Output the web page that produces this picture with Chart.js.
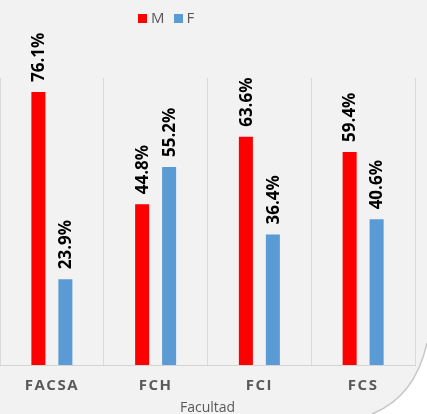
<!DOCTYPE html>
<html>
<head>
<meta charset="utf-8">
<script src="https://cdn.jsdelivr.net/npm/chart.js@4"></script>
<style>
  html, body { margin: 0; padding: 0; background: #f2f2f2; }
  #wrap { position: relative; width: 427px; height: 414px; overflow: hidden; }
  #legend { position: absolute; top: 7px; left: 138px; font: 15px "Open Sans", sans-serif; color: #595959; line-height: 20px; }
  #legend span.box { display: inline-block; width: 9px; height: 9px; margin-right: 4px; }
  #legend span.lab { margin-right: 9px; }
</style>
</head>
<body>
<div id="wrap">
  <canvas id="myChart" width="427" height="414"></canvas>
  <div id="legend"></div>
</div>
<script>
const labels = ['FACSA', 'FCH', 'FCI', 'FCS'];
const seriesNames = ['M', 'F'];
const valuesM = [76.1, 44.8, 63.6, 59.4];
const valuesF = [23.9, 55.2, 36.4, 40.6];
const colors = ['#ff0000', '#5b9bd5'];

// legend in html
let lg = '';
seriesNames.forEach(function(n, i){
  lg += '<span class="box" style="background:' + colors[i] + '"></span><span class="lab">' + n + '</span>';
});
document.getElementById('legend').innerHTML = lg;

const barLabels = {
  id: 'barLabels',
  beforeDraw(chart) {
    chart.ctx.letterSpacing = '0px';
  },
  afterDatasetsDraw(chart) {
    const ctx = chart.ctx;
    ctx.save();
    ctx.font = 'bold 17px "Open Sans"';
    ctx.fillStyle = '#000';
    ctx.textAlign = 'left';
    ctx.textBaseline = 'middle';
    chart.data.datasets.forEach(function(ds, i){
      chart.getDatasetMeta(i).data.forEach(function(bar, j){
        ctx.save();
        ctx.translate(bar.x + 1, bar.y - 10);
        ctx.rotate(-Math.PI / 2);
        ctx.fillText(ds.data[j].toFixed(1) + '%', 0, 0);
        ctx.restore();
      });
    });
    ctx.restore();
    // spaced letters for the category ticks (drawn next, z:1)
    ctx.letterSpacing = '1.5px';
  },
  afterDraw(chart) {
    chart.ctx.letterSpacing = '0px';
  }
};

// page curl in the corner
const curl = {
  id: 'curl',
  afterDraw(chart) {
    const ctx = chart.ctx;
    ctx.save();
    ctx.beginPath();
    ctx.moveTo(427, 343);
    ctx.quadraticCurveTo(415, 397, 372, 414);
    ctx.lineTo(427, 414);
    ctx.closePath();
    ctx.fillStyle = '#ffffff';
    ctx.fill();
    ctx.beginPath();
    ctx.moveTo(427, 343);
    ctx.quadraticCurveTo(415, 397, 372, 414);
    ctx.strokeStyle = '#c8c8c8';
    ctx.lineWidth = 1.5;
    ctx.stroke();
    ctx.restore();
  }
};

const data = {
  labels: labels,
  datasets: [{
    label: seriesNames[0],
    data: valuesM,
    backgroundColor: colors[0]
  }, {
    label: seriesNames[1],
    data: valuesF,
    backgroundColor: colors[1]
  }]
};

const config = {
  type: 'bar',
  data: data,
  options: {
    responsive: false,
    animation: false,
    datasets: { bar: { categoryPercentage: 0.52, barPercentage: 0.52 } },
    layout: { padding: { top: 78, right: 12, left: 0, bottom: 0 } },
    plugins: {
      legend: { display: false },
      tooltip: { enabled: false }
    },
    scales: {
      x: {
        afterFit: function(scale){ scale.height = 49; },
        grid: { color: '#dadada', drawTicks: false },
        border: { color: '#d4d4d4' },
        ticks: {
          z: 1,
          padding: 12,
          color: '#595959',
          font: { family: 'Open Sans', size: 15, weight: 'bold' }
        },
        title: {
          display: true,
          text: 'Facultad',
          color: '#595959',
          padding: { top: 0, bottom: -2 },
          font: { family: 'Open Sans', size: 14 }
        }
      },
      y: {
        display: false,
        min: 0,
        max: 80
      }
    }
  },
  plugins: [barLabels, curl]
};

const myChart = new Chart(document.getElementById('myChart'), config);
</script>
</body>
</html>
